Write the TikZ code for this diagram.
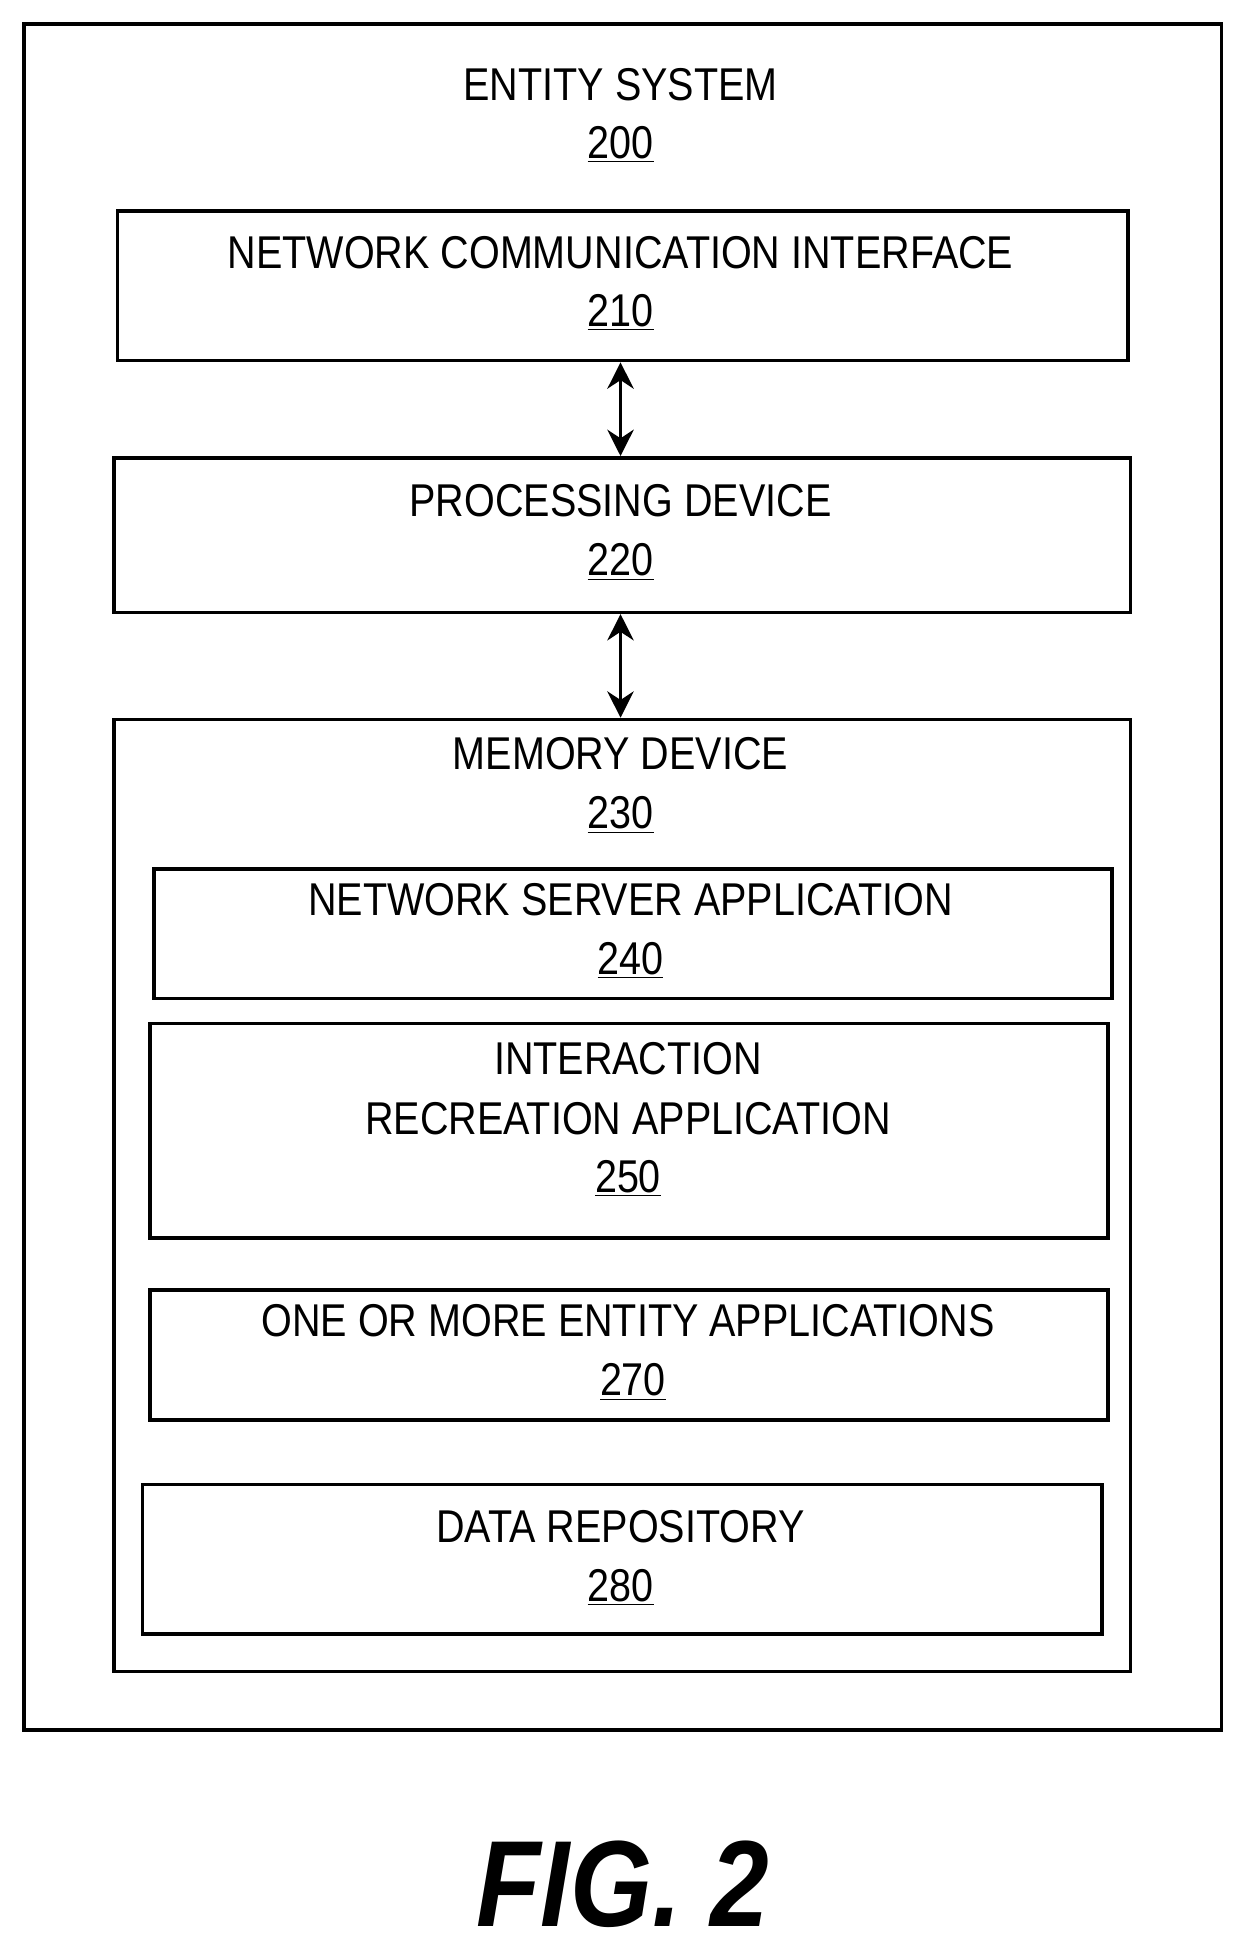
\documentclass[tikz,border=0pt]{standalone}
\usepackage{fontspec}
\setmainfont{Liberation Sans}[FakeStretch=0.86]
\usetikzlibrary{arrows.meta}
\tikzset{
  blk/.style={draw,line width=1.6pt,inner sep=0pt,anchor=north west},
  lbl/.style={font=\fontsize{21}{26}\selectfont,align=center,inner sep=0pt},
  link/.style={line width=1.8pt,{Stealth[length=12pt,width=12pt]}-{Stealth[length=12pt,width=12pt]}}
}
\newcommand{\refnum}[1]{\underline{#1}}
\begin{document}
\begin{tikzpicture}[x=0.02cm,y=-0.02cm]
        \useasboundingbox (0,0) rectangle (1000,1573);
        %outer system
        \node[blk,minimum width=961*0.02cm,minimum height=1369*0.02cm] (sys) at (18,18) {};
        \node[lbl] (syst) at (498,68) {ENTITY SYSTEM};
        \node[lbl] (sysn) at (498,116) {\refnum{200}};
        % boxes
        \node[blk,minimum width=811*0.02cm,minimum height=120*0.02cm] (nci) at (93,168) {};
        \node[blk,minimum width=816*0.02cm,minimum height=124*0.02cm] (proc) at (90,366) {};
        \node[blk,minimum width=816*0.02cm,minimum height=764*0.02cm] (mem) at (90,576) {};
        \node[blk,minimum width=769*0.02cm,minimum height=104*0.02cm] (nsa) at (122,696) {};
        \node[blk,minimum width=769*0.02cm,minimum height=172*0.02cm] (ira) at (119,820) {};
        \node[blk,minimum width=769*0.02cm,minimum height=104*0.02cm] (apps) at (119,1034) {};
        \node[blk,minimum width=770*0.02cm,minimum height=120*0.02cm] (repo) at (113,1190) {};
        % labels
        \node[lbl] at (498,203) {NETWORK COMMUNICATION INTERFACE};
        \node[lbl] at (498,251) {\refnum{210}};
        \node[lbl] at (498,402) {PROCESSING DEVICE};
        \node[lbl] at (498,451) {\refnum{220}};
        \node[lbl] at (498,605) {MEMORY DEVICE};
        \node[lbl] at (498,654) {\refnum{230}};
        \node[lbl] at (506,722) {NETWORK SERVER APPLICATION};
        \node[lbl] at (506,771) {\refnum{240}};
        \node[lbl] at (504,850) {INTERACTION};
        \node[lbl] at (504,898) {RECREATION APPLICATION};
        \node[lbl] at (504,946) {\refnum{250}};
        \node[lbl] at (504,1060) {ONE OR MORE ENTITY APPLICATIONS};
        \node[lbl] at (508,1109) {\refnum{270}};
        \node[lbl] at (498,1225) {DATA REPOSITORY};
        \node[lbl] at (498,1274) {\refnum{280}};
        % links
        \draw[link] (nci.south-|498,0) -- (proc.north-|498,0);
        \draw[link] (proc.south-|498,0) -- (mem.north-|498,0);
        % caption
        \node[font=\fontsize{56}{62}\selectfont\bfseries\itshape,inner sep=0pt] (fig) at (500,1512) {FIG. 2};
\end{tikzpicture}
\end{document}
